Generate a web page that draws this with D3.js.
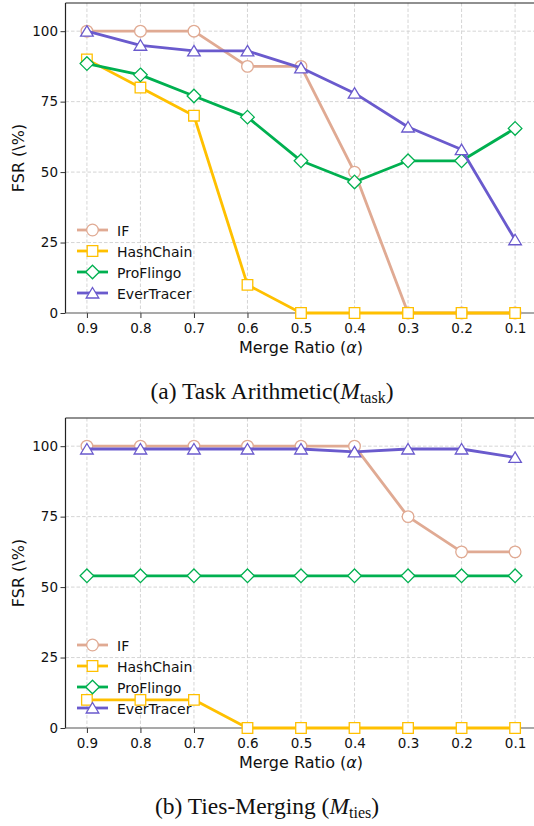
<!DOCTYPE html>
<html lang="en">
<head>
  <meta charset="UTF-8">
  <title>FSR vs Merge Ratio</title>
  <style>
    body { margin: 0; background: #fff; }
    svg { display: block; }
    text { font-family: "DejaVu Sans", sans-serif; fill: #111; }
    .caption { font-family: "Liberation Serif", "Times New Roman", serif; }
  </style>
</head>
<body>
<svg width="534" height="826"></svg>

<script src="https://d3js.org/d3.v7.min.js"></script>
<script>
  // x categories and y ticks
  const ratios = ["0.9", "0.8", "0.7", "0.6", "0.5", "0.4", "0.3", "0.2", "0.1"];
  const yTicks = [0, 25, 50, 75, 100];
  const methods = ["IF", "HashChain", "ProFlingo", "EverTracer"];

  // (a) Task Arithmetic
  const taskIF         = [100, 100, 100, 87.5, 87.5, 50, 0, 0, 0];
  const taskHashChain  = [90, 80, 70, 10, 0, 0, 0, 0, 0];
  const taskProFlingo  = [88.5, 84.5, 77, 69.5, 54, 46.5, 54, 54, 65.5];
  const taskEverTracer = [100, 95, 93, 93, 87, 78, 66, 58, 26];

  // (b) Ties-Merging
  const tiesIF         = [100, 100, 100, 100, 100, 100, 75, 62.5, 62.5];
  const tiesHashChain  = [10, 10, 10, 0, 0, 0, 0, 0, 0];
  const tiesProFlingo  = [54, 54, 54, 54, 54, 54, 54, 54, 54];
  const tiesEverTracer = [99, 99, 99, 99, 99, 98, 99, 99, 96];

  const colors = { IF: "#e0aa93", HashChain: "#ffc000", ProFlingo: "#00b050", EverTracer: "#6a5acd" };

  // marker shapes, matplotlib-like (o, s, D, ^)
  const markers = {
    IF: d3.symbol().type(d3.symbolCircle).size(106)(),
    HashChain: d3.symbol().type(d3.symbolSquare).size(112)(),
    ProFlingo: "M0,-6.8L6.8,0L0,6.8L-6.8,0Z",
    EverTracer: "M0,-5.5L6.3,5L-6.3,5Z"
  };

  const svg = d3.select("svg");

  const x = d3.scaleLinear().domain([-0.4, 8.4]).range([65.5, 536.5]);

  function panel(top, series, captionMain, captionSub, captionX) {
    const bottom = top + 310;
    const y = d3.scaleLinear().domain([0, 110]).range([bottom, top]);
    const g = svg.append("g");

    // grid
    g.selectAll(".vg").data(ratios).enter().append("line")
      .attr("x1", (d, i) => x(i)).attr("x2", (d, i) => x(i))
      .attr("y1", top).attr("y2", bottom)
      .attr("stroke", "#d0d0d0").attr("stroke-width", 0.9).attr("stroke-dasharray", "3.5,2");
    g.selectAll(".hg").data(yTicks.slice(1)).enter().append("line")
      .attr("x1", x(-0.4)).attr("x2", 534)
      .attr("y1", d => y(d)).attr("y2", d => y(d))
      .attr("stroke", "#d0d0d0").attr("stroke-width", 0.9).attr("stroke-dasharray", "3.5,2");

    // axes
    const yAxis = d3.axisLeft(y).tickValues(yTicks).tickSize(5).tickPadding(2.5);
    const ya = g.append("g").attr("transform", `translate(${x(-0.4)},0)`).call(yAxis);
    const xAxis = d3.axisBottom(x).tickValues(d3.range(ratios.length)).tickFormat(i => ratios[i]).tickSize(5).tickPadding(5);
    const xa = g.append("g").attr("transform", `translate(0,${bottom})`).call(xAxis);
    [ya, xa].forEach(a => {
      a.select(".domain").remove();
      a.selectAll("line").attr("stroke", "#333");
      a.selectAll("text").attr("font-size", 13.5).attr("fill", "#111")
        .style("font-family", "DejaVu Sans, sans-serif");
    });

    // spines
    g.append("line").attr("x1", x(-0.4)).attr("x2", x(-0.4)).attr("y1", top).attr("y2", bottom)
      .attr("stroke", "#222").attr("stroke-width", 1.2);
    g.append("line").attr("x1", x(-0.4)).attr("x2", 534).attr("y1", top).attr("y2", top)
      .attr("stroke", "#222").attr("stroke-width", 1.2);
    g.append("line").attr("x1", x(-0.4)).attr("x2", 534).attr("y1", bottom).attr("y2", bottom)
      .attr("stroke", "#555").attr("stroke-width", 1.2);

    // lines and markers
    const line = d3.line().x((d, i) => x(i)).y(d => y(d));
    methods.forEach(m => {
      g.append("path").datum(series[m])
        .attr("d", line).attr("fill", "none")
        .attr("stroke", colors[m]).attr("stroke-width", 2.8).attr("stroke-linejoin", "round");
      g.selectAll(null).data(series[m]).enter().append("path")
        .attr("d", markers[m])
        .attr("transform", (d, i) => `translate(${x(i)},${y(d)})`)
        .attr("fill", "#fff").attr("stroke", colors[m]).attr("stroke-width", 1.3);
    });

    // legend
    const lg = g.append("g").attr("transform", `translate(77,${bottom - 83})`);
    methods.forEach((m, k) => {
      const row = lg.append("g").attr("transform", `translate(0,${k * 21})`);
      row.append("line").attr("x1", 0).attr("x2", 31).attr("y1", 0).attr("y2", 0)
        .attr("stroke", colors[m]).attr("stroke-width", 2.8);
      row.append("path").attr("d", markers[m])
        .attr("transform", "translate(15.5,0)")
        .attr("fill", "#fff").attr("stroke", colors[m]).attr("stroke-width", 1.3);
      row.append("text").attr("x", 40).attr("y", 5.5).attr("font-size", 14).text(m);
    });

    // axis labels
    g.append("text").attr("transform", `translate(24,${(top + bottom) / 2}) rotate(-90)`)
      .attr("text-anchor", "middle").attr("font-size", 16).text("FSR (\\%)");
    const xl = g.append("text").attr("x", 301).attr("y", bottom + 40)
      .attr("text-anchor", "middle").attr("font-size", 16);
    xl.append("tspan").text("Merge Ratio (");
    xl.append("tspan").attr("font-style", "italic").text("α");
    xl.append("tspan").text(")");

    // caption
    const cap = g.append("text").attr("class", "caption").attr("x", captionX).attr("y", bottom + 86)
      .attr("text-anchor", "middle").attr("font-size", 23.5);
    cap.append("tspan").text(captionMain);
    cap.append("tspan").attr("font-style", "italic").text("M");
    cap.append("tspan").attr("font-size", 16).attr("dy", 4).text(captionSub);
    cap.append("tspan").attr("dy", -4).text(")");
  }

  panel(3, { IF: taskIF, HashChain: taskHashChain, ProFlingo: taskProFlingo, EverTracer: taskEverTracer },
    "(a) Task Arithmetic(", "task", 272);
  panel(418, { IF: tiesIF, HashChain: tiesHashChain, ProFlingo: tiesProFlingo, EverTracer: tiesEverTracer },
    "(b) Ties-Merging (", "ties", 267);
</script>
</body>
</html>
